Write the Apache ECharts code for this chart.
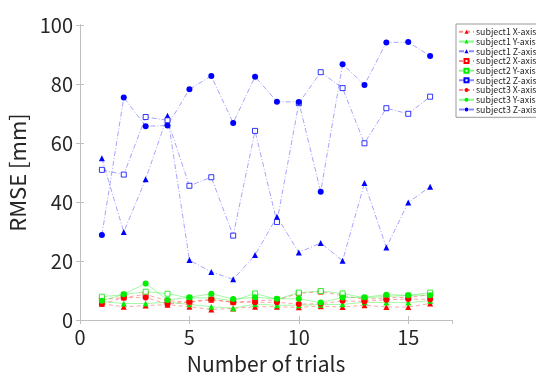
<!DOCTYPE html>
<html>
<head>
<meta charset="utf-8">
<script src="https://cdn.jsdelivr.net/npm/echarts@6/dist/echarts.min.js"></script>
<style>
  html, body { margin: 0; padding: 0; background: #fff; }
  #chart { width: 536px; height: 376px; }
</style>
</head>
<body>
<div id="chart"></div>
<script>
// trial numbers 1..16
const trials = [1, 2, 3, 4, 5, 6, 7, 8, 9, 10, 11, 12, 13, 14, 15, 16];

// RMSE [mm] per trial
const s1X = [5.5, 4.5, 4.9, 5.2, 4.5, 3.6, 3.9, 4.5, 4.5, 4.3, 4.7, 4.4, 5.0, 4.4, 4.4, 5.6];
const s1Y = [6.2, 5.6, 5.6, 6.0, 5.3, 4.5, 4.0, 5.4, 5.0, 5.0, 5.2, 5.3, 6.0, 5.9, 5.9, 6.5];
const s1Z = [54.8, 29.8, 47.7, 69.2, 20.3, 16.3, 13.8, 22.0, 35.0, 22.9, 26.1, 20.1, 46.4, 24.6, 39.8, 45.2];
const s2X = [7.0, 7.6, 8.7, 6.5, 6.0, 6.8, 6.0, 6.5, 6.8, 9.0, 9.6, 8.3, 7.0, 7.5, 7.7, 8.5];
const s2Y = [7.9, 8.6, 9.6, 8.9, 7.5, 7.5, 6.5, 9.0, 7.0, 9.3, 9.8, 9.0, 7.5, 8.0, 8.3, 9.3];
const s2Z = [50.9, 49.3, 68.8, 67.7, 45.5, 48.4, 28.6, 64.1, 33.2, 73.5, 84.0, 78.6, 59.9, 71.8, 69.9, 75.7];
const s3X = [5.4, 7.6, 7.6, 5.4, 6.2, 7.0, 6.0, 6.0, 6.0, 5.4, 5.5, 6.5, 6.3, 6.9, 7.1, 7.0];
const s3Y = [6.5, 8.7, 12.4, 6.8, 7.7, 8.9, 7.1, 7.7, 7.2, 7.2, 5.9, 7.6, 7.7, 8.6, 8.4, 8.4];
const s3Z = [28.8, 75.4, 65.7, 65.9, 78.2, 82.7, 66.8, 82.5, 74.0, 73.9, 43.5, 86.7, 79.7, 94.1, 94.2, 89.5];

const font = '"Noto Sans CJK JP", "Noto Sans", sans-serif';
const boxColor = '#bfbfbf';

const dashRed = [4, 3];
const dashDot = [5, 2, 1, 2];

function mkSeries(name, data, color, symbol, lineType, hollow) {
  return {
    name: name,
    type: 'line',
    data: trials.map((t, i) => [t, data[i]]),
    symbol: symbol,
    symbolSize: symbol === 'rect' ? 5 : 6,
    showSymbol: true,
    z: 3,
    itemStyle: hollow
      ? { color: '#fff', borderColor: color, borderWidth: 0.8 }
      : { color: color, borderColor: color, borderWidth: 0 },
    lineStyle: { color: color, width: 0.8, opacity: 0.45, type: lineType },
    animation: false
  };
}

const series = [
  mkSeries('subject1 X-axis', s1X, '#ff0000', 'triangle', dashRed, false),
  mkSeries('subject1 Y-axis', s1Y, '#00ee00', 'triangle', 'solid', false),
  mkSeries('subject1 Z-axis', s1Z, '#0000ff', 'triangle', dashDot, false),
  mkSeries('subject2 X-axis', s2X, '#ff0000', 'rect', dashRed, true),
  mkSeries('subject2 Y-axis', s2Y, '#00ee00', 'rect', 'solid', true),
  mkSeries('subject2 Z-axis', s2Z, '#0000ff', 'rect', dashDot, true),
  mkSeries('subject3 X-axis', s3X, '#ff0000', 'circle', dashRed, false),
  mkSeries('subject3 Y-axis', s3Y, '#00ee00', 'circle', 'solid', false),
  mkSeries('subject3 Z-axis', s3Z, '#0000ff', 'circle', dashDot, false)
];

const chart = echarts.init(document.getElementById('chart'), null, { renderer: 'canvas' });

chart.setOption({
  animation: false,
  backgroundColor: '#fff',
  grid: { left: 80, right: 84, top: 25, bottom: 56, outerBoundsMode: 'none', containLabel: false },
  legend: {
    orient: 'vertical',
    left: 456,
    top: 24,
    padding: [3, 2, 3, 2],
    itemGap: 0,
    itemWidth: 15,
    itemHeight: 5,
    borderColor: '#9a9a9a',
    borderWidth: 1,
    backgroundColor: '#fff',
    textStyle: { fontFamily: font, fontSize: 8.8, lineHeight: 9.7, color: '#262626', padding: [0, 0, 0, -3] },
    data: series.map(s => s.name)
  },
  xAxis: [
    {
      type: 'value',
      min: 0, max: 17, interval: 5,
      name: 'Number of trials',
      nameLocation: 'middle',
      nameGap: 34,
      nameTextStyle: { fontFamily: font, fontSize: 21, color: '#262626' },
      axisLine: { show: true, lineStyle: { color: boxColor, width: 1 } },
      axisTick: { show: true, inside: true, length: 4, lineStyle: { color: boxColor } },
      axisLabel: { fontFamily: font, fontSize: 20, color: '#262626', margin: 7, showMaxLabel: false },
      splitLine: { show: false }
    },
    {
      type: 'value',
      position: 'top',
      min: 0, max: 17, interval: 5,
      axisLine: { show: true, lineStyle: { color: boxColor, width: 1 } },
      axisTick: { show: true, inside: true, length: 4, lineStyle: { color: boxColor } },
      axisLabel: { show: false },
      splitLine: { show: false }
    }
  ],
  yAxis: [
    {
      type: 'value',
      min: 0, max: 100, interval: 20,
      name: 'RMSE [mm]',
      nameLocation: 'middle',
      nameGap: 41,
      nameTextStyle: { fontFamily: font, fontSize: 22, color: '#262626' },
      axisLine: { show: true, lineStyle: { color: boxColor, width: 1 } },
      axisTick: { show: true, inside: true, length: 4, lineStyle: { color: boxColor } },
      axisLabel: { fontFamily: font, fontSize: 20, color: '#262626', margin: 7 },
      splitLine: { show: false }
    },
    {
      type: 'value',
      position: 'right',
      min: 0, max: 100, interval: 20,
      axisLine: { show: true, lineStyle: { color: boxColor, width: 1 } },
      axisTick: { show: true, inside: true, length: 4, lineStyle: { color: boxColor } },
      axisLabel: { show: false },
      splitLine: { show: false }
    }
  ],
  series: series
});
</script>
</body>
</html>
